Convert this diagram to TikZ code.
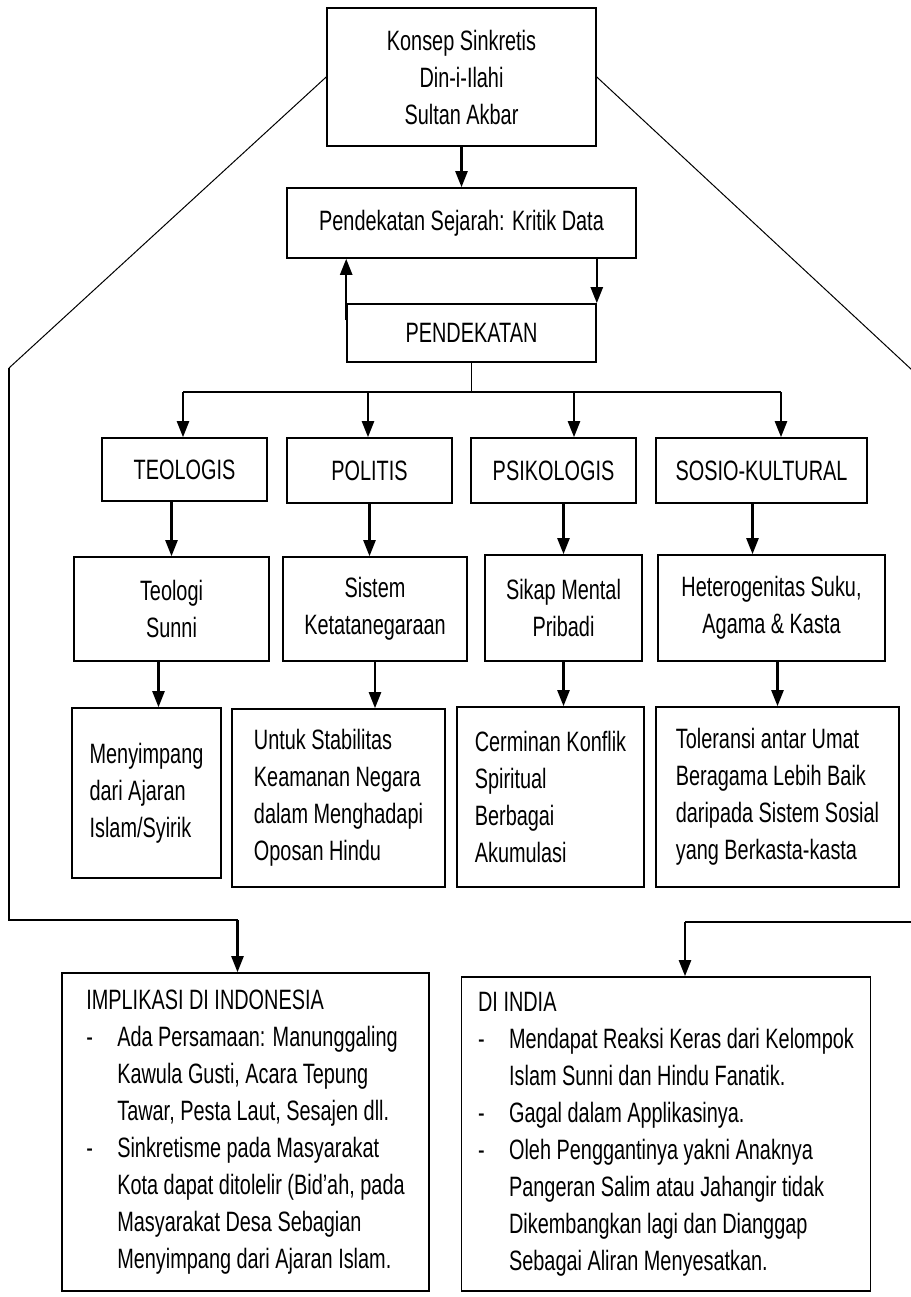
\documentclass[tikz,border=0pt]{standalone}
\usepackage{fontspec}
\setmainfont{Liberation Sans}[FakeStretch=0.71]
\usetikzlibrary{arrows.meta}

\newcommand{\dashitem}{\makebox[31pt][l]{-}}
\newcommand{\dashgap}{\hspace*{31pt}}

\begin{document}
\begin{tikzpicture}[x=1pt,y=-1pt,
                    box/.style={draw,line width=1.6pt,inner sep=0pt,align=center,
                                font=\fontsize{28}{37}\selectfont},
                    arr/.style={line width=2.4pt,-{Triangle[length=16pt,width=12pt]}}]
  \useasboundingbox (0,0) rectangle (910,1297);

  \node[box,minimum width=269pt,minimum height=138pt] (konsep) at (461.5,77)
    {Konsep Sinkretis\\Din-i-Ilahi\\Sultan Akbar};
  \node[box,minimum width=349pt,minimum height=70pt] (sejarah) at (461.5,223)
    {Pendekatan Sejarah: Kritik Data};
  \node[box,minimum width=249pt,minimum height=58pt] (pendekatan) at (471.5,333)
    {PENDEKATAN};

  % first row
  \node[box,minimum width=165pt,minimum height=63pt] (teologis) at (184.5,469.5) {TEOLOGIS};
  \node[box,minimum width=165pt,minimum height=65pt] (politis) at (369.5,470.5) {POLITIS};
  \node[box,minimum width=165pt,minimum height=65pt] (psikologis) at (553.5,470.5) {PSIKOLOGIS};
  \node[box,minimum width=211pt,minimum height=65pt] (sosio) at (761.5,470.5) {SOSIO-KULTURAL};

  % second row
  \node[box,minimum width=195pt,minimum height=104pt] (teologi) at (171.5,609) {Teologi\\Sunni};
  \node[box,minimum width=184pt,minimum height=104pt] (sistem) at (375,609) {Sistem\\Ketatanegaraan};
  \node[box,minimum width=157pt,minimum height=106pt] (sikap) at (563.5,608) {Sikap Mental\\Pribadi};
  \node[box,minimum width=227pt,minimum height=106pt] (hetero) at (771.5,608)
    {Heterogenitas Suku,\\Agama \& Kasta};

  % third row
  \node[box,align=left,minimum width=149pt,minimum height=170pt] (menyimpang) at (146.5,793)
    {Menyimpang\\dari Ajaran\\Islam/Syirik};
  \node[box,align=left,minimum width=213pt,minimum height=178pt] (untuk) at (338.5,798)
    {Untuk Stabilitas\\Keamanan Negara\\dalam Menghadapi\\Oposan Hindu};
  \node[box,align=left,minimum width=187pt,minimum height=180pt] (cerminan) at (550.5,797)
    {Cerminan Konflik\\Spiritual\\Berbagai\\Akumulasi};
  \node[box,align=left,minimum width=243pt,minimum height=180pt] (toleransi) at (777.5,797)
    {Toleransi antar Umat\\Beragama Lebih Baik\\daripada Sistem Sosial\\yang Berkasta-kasta};

  % implications
  \node[box,align=left,minimum width=367pt,minimum height=318pt] (indonesia) at (245.5,1132)
    {IMPLIKASI DI INDONESIA\\
     \dashitem Ada Persamaan: Manunggaling\\
     \dashgap Kawula Gusti, Acara Tepung\\
     \dashgap Tawar, Pesta Laut, Sesajen dll.\\
     \dashitem Sinkretisme pada Masyarakat\\
     \dashgap Kota dapat ditolelir (Bid'ah, pada\\
     \dashgap Masyarakat Desa Sebagian\\
     \dashgap Menyimpang dari Ajaran Islam.};
  \node[box,align=left,minimum width=409pt,minimum height=314pt] (india) at (666,1134)
    {DI INDIA\\
     \dashitem Mendapat Reaksi Keras dari Kelompok\\
     \dashgap Islam Sunni dan Hindu Fanatik.\\
     \dashitem Gagal dalam Applikasinya.\\
     \dashitem Oleh Penggantinya yakni Anaknya\\
     \dashgap Pangeran Salim atau Jahangir tidak\\
     \dashgap Dikembangkan lagi dan Dianggap\\
     \dashgap Sebagai Aliran Menyesatkan.};

  % top part
  \draw[arr] (konsep.south) -- (sejarah.north);
  \coordinate (up) at ([yshift=-17pt]pendekatan.north west);
  \draw[arr] (up) -- (up |- sejarah.south);
  \draw[arr] (pendekatan.north east |- sejarah.south) -- (pendekatan.north east);

  % branching bar
  \coordinate (b1) at (183,392);
  \coordinate (b2) at (368,392);
  \coordinate (b3) at (574,392);
  \coordinate (b4) at (781,392);
  \draw[line width=1pt] (pendekatan.south) -- (pendekatan.south |- b1);
  \draw[line width=1.6pt] (b1) -- (b4);
  \foreach \b/\n in {b1/teologis,b2/politis,b3/psikologis,b4/sosio}
    \draw[arr] (\b) -- (\b |- \n.north);

  % down the columns
  \draw[arr] (teologi.north |- teologis.south) -- (teologi.north);
  \draw[arr] (politis.south) -- (politis.south |- sistem.north);
  \draw[arr] (sikap.north |- psikologis.south) -- (sikap.north);
  \draw[arr] ([xshift=-9pt]sosio.south) -- ([xshift=-9pt]sosio.south |- hetero.north);
  \draw[arr] ([xshift=-13pt]teologi.south) -- ([xshift=-13pt]teologi.south |- menyimpang.north);
  \draw[arr] (sistem.south) -- (sistem.south |- untuk.north);
  \draw[arr] (sikap.south) -- (sikap.south |- cerminan.north);
  \draw[arr] (toleransi.north |- hetero.south) -- (toleransi.north);

  % side lines
  \coordinate (lt) at (9,368);
  \coordinate (lb) at (9,920);
  \coordinate (lc) at ([xshift=-8pt]indonesia.north |- lb);
  \coordinate (rt) at (912,370);
  \coordinate (rb) at (912,922);
  \coordinate (rc) at ([xshift=19pt]india.north |- rb);
  \draw[line width=1pt] (konsep.west) -- (lt);
  \draw[line width=1.6pt] (lt) -- (lb) -- (lc);
  \draw[arr] (lc) -- (lc |- indonesia.north);
  \draw[line width=1pt] (konsep.east) -- (rt);
  \draw[line width=1.6pt] (rt) -- (rb) -- (rc);
  \draw[arr] (rc) -- (rc |- india.north);
\end{tikzpicture}
\end{document}
